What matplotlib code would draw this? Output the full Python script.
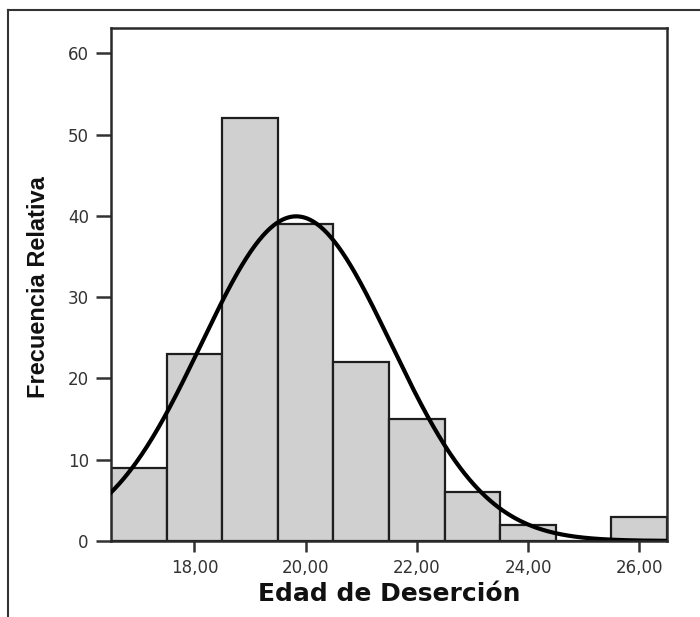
import numpy as np
import matplotlib
matplotlib.use("Agg")
import matplotlib.pyplot as plt
from matplotlib.lines import Line2D

# histogram of dropout ages (bin centres, width 1)
edad = [17, 18, 19, 20, 21, 22, 23, 24, 25, 26]
frecuencia = [9, 23, 52, 39, 22, 15, 6, 2, 0, 3]
x_ticks = [18, 20, 22, 24, 26]
x_labels = ["18,00", "20,00", "22,00", "24,00", "26,00"]
y_ticks = [0, 10, 20, 30, 40, 50, 60]

plt.rcParams['font.family'] = ['Liberation Sans', 'DejaVu Sans']

fig = plt.figure(figsize=(7.0, 6.17), dpi=100)
ax = fig.add_axes([0.1586, 0.1232, 0.7943, 0.8314])

ax.bar(edad, frecuencia, width=1.0, color="#d0d0d0", edgecolor="#1e1e1e",
       linewidth=1.6, zorder=2)

# fitted normal curve (SPSS style overlay)
x = np.array(edad, dtype=float)
f = np.array(frecuencia, dtype=float)
n = f.sum()
media = (x * f).sum() / n
sd = np.sqrt((f * (x - media) ** 2).sum() / (n - 1))
xs = np.linspace(16.5, 26.5, 400)
ys = n * 1.0 / (sd * np.sqrt(2 * np.pi)) * np.exp(-0.5 * ((xs - media) / sd) ** 2)
ax.plot(xs, ys, color="black", linewidth=3.0, zorder=3)

ax.set_xlim(16.5, 26.5)
ax.set_ylim(0, 63.1)
ax.set_xticks(x_ticks)
ax.set_xticklabels(x_labels, family=['DejaVu Sans'])
ax.set_yticks(y_ticks)
ax.set_yticklabels([str(v) for v in y_ticks], family=['DejaVu Sans'])

ax.tick_params(axis="x", length=8, width=1.8, color="#333333", pad=5,
               labelsize=12, labelcolor="#333333")
ax.tick_params(axis="y", length=11, width=1.8, color="#333333", pad=5,
               labelsize=12, labelcolor="#333333")

for s in ax.spines.values():
    s.set_color("#2a2a2a")
    s.set_linewidth(1.8)
ax.spines["bottom"].set_zorder(4)

ax.set_xlabel("Edad de Deserción", fontsize=18, fontweight="bold",
              family=['DejaVu Sans'], color="#111111")
ax.xaxis.set_label_coords(0.5, -0.08)
ax.set_ylabel("Frecuencia Relativa", fontsize=17, fontweight="bold",
              color="#111111")
ax.yaxis.set_label_coords(-0.110, 0.495)

# outer frame (top and left edges only)
fig.add_artist(Line2D([8 / 700, 1.0], [1 - 10 / 617, 1 - 10 / 617],
                      transform=fig.transFigure, color="#333333", linewidth=1.5))
fig.add_artist(Line2D([8 / 700, 8 / 700], [0.0, 1 - 10 / 617],
                      transform=fig.transFigure, color="#333333", linewidth=1.5))

fig.savefig("out.png", dpi=100, facecolor="white")
